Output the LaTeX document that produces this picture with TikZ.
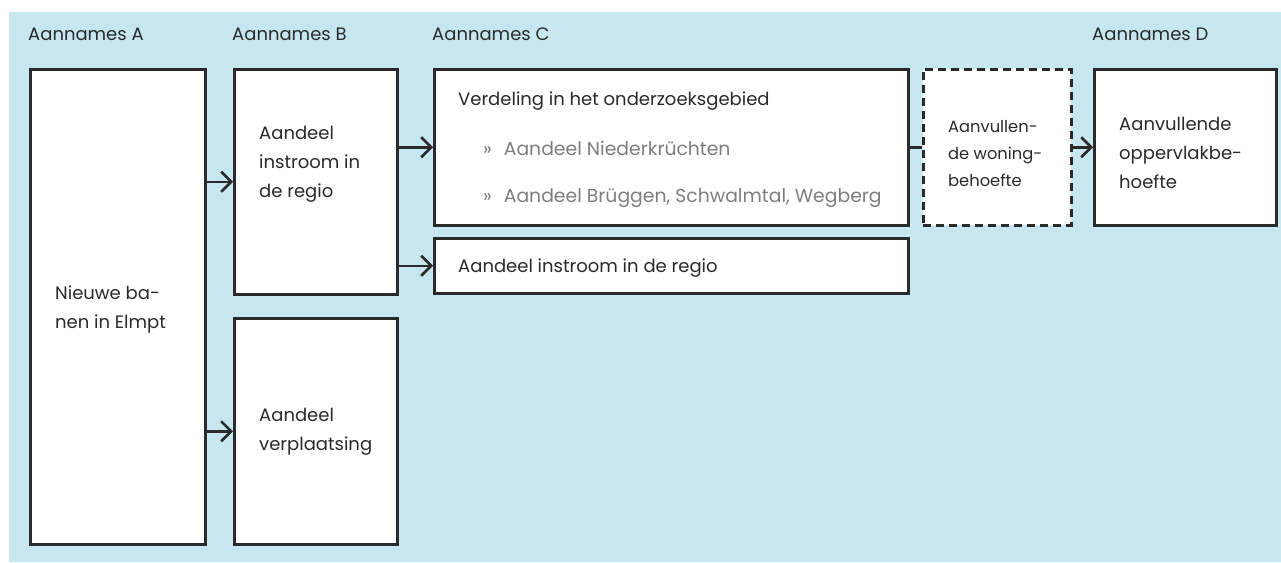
\documentclass[tikz,border=0pt]{standalone}
\usepackage{fontspec}
\setmainfont{Poppins}
\usetikzlibrary{arrows.meta}
\definecolor{bgblue}{HTML}{C6E7F0}
\definecolor{ink}{HTML}{2A2A2A}
\definecolor{graytxt}{HTML}{7E7E7E}
\tikzset{
  box/.style={draw=ink, line width=2.5pt, fill=white, inner sep=0pt, anchor=north west},
  dbox/.style={box, dash pattern=on 8pt off 5pt},
  txt/.style={inner sep=0pt, anchor=base west, align=left, text=ink, font=\fontsize{18}{29}\selectfont},
  stxt/.style={txt, font=\fontsize{16.3}{27}\selectfont},
  gtxt/.style={txt, text=graytxt, font=\fontsize{18.8}{29}\selectfont},
  arr/.style={draw=ink, line width=2.5pt, -{Straight Barb[length=10pt,width=20pt,line width=2.5pt]}},
  lin/.style={draw=ink, line width=2.5pt}
}
\begin{document}
\begin{tikzpicture}[x=1pt,y=-1pt]
\useasboundingbox (0,0) rectangle (1281,562);
\fill[bgblue] (9,12) rectangle (1281,562);
% headers
\node[txt] (hA) at (28,40) {Aannames A};
\node[txt] (hB) at (232,40) {Aannames B};
\node[txt] (hC) at (432,40) {Aannames C};
\node[txt] (hD) at (1092,40) {Aannames D};
% boxes
\node[box, minimum width=175pt, minimum height=475pt] (A) at (29,68) {};
\node[box, minimum width=163pt, minimum height=225pt] (B1) at (233,68) {};
\node[box, minimum width=163pt, minimum height=226pt] (B2) at (233,317) {};
\node[box, minimum width=474pt, minimum height=156pt] (C1) at (433,68) {};
\node[box, minimum width=474pt, minimum height=55pt] (C2) at (433,237) {};
\node[dbox, minimum width=148pt, minimum height=156pt] (W) at (922,68) {};
\node[box, minimum width=182pt, minimum height=156pt] (D) at (1093,68) {};
% texts (multi-line nodes are anchored at the baseline of their last line)
\node[txt] (tA) at (55,328) {Nieuwe ba-\\nen in Elmpt};
\node[txt] (tB1) at (259,197) {Aandeel\\instroom in\\de regio};
\node[txt] (tB2) at (259,450) {Aandeel\\verplaatsing};
\node[txt] (tC1) at (458,105) {Verdeling in het onderzoeksgebied};
\node[gtxt] (g1) at (483,155) {»\hspace{12pt}Aandeel Niederkrüchten};
\node[gtxt] (g2) at (483,202) {»\hspace{12pt}Aandeel Brüggen, Schwalmtal, Wegberg};
\node[txt] (tC2) at (458,272) {Aandeel instroom in de regio};
\node[stxt] (tW) at (948,186) {Aanvullen-\\de woning-\\behoefte};
\node[txt] (tD) at (1119,188) {Aanvullende\\oppervlakbe-\\hoefte};
% connectors
\draw[arr] (A.east |- B1.west) -- (B1.west);
\draw[arr] (A.east |- B2.west) -- (B2.west);
\draw[arr] (B1.east |- C1.west) -- (C1.west);
\draw[arr] (B1.east |- C2.west) -- (C2.west);
\draw[lin] (C1.east) -- (W.west);
\draw[arr] (W.east) -- (D.west);
\end{tikzpicture}
\end{document}
